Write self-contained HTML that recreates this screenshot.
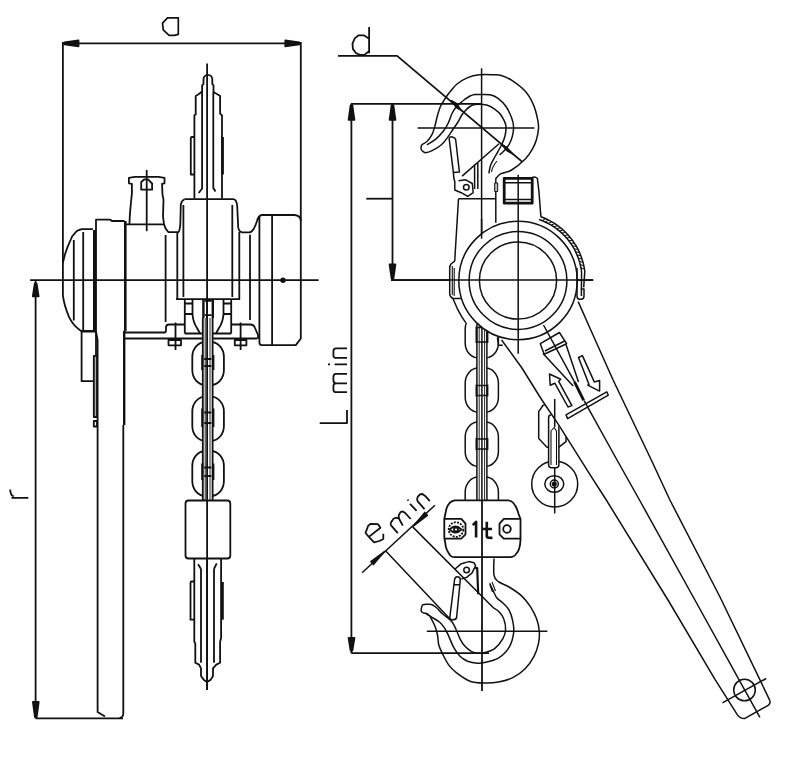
<!DOCTYPE html>
<html><head><meta charset="utf-8"><style>
html,body{margin:0;padding:0;background:#fff;width:800px;height:759px;overflow:hidden;font-family:"Liberation Sans",sans-serif;}
svg{display:block}
</style></head><body>
<svg width="800" height="759" viewBox="0 0 800 759">
<g fill="none" stroke="#111" stroke-width="1.8" stroke-linejoin="round" stroke-linecap="butt">
<path d="M62.9 43.4H300.8 M62.9 42V262.7 M300.8 42V221" />
<path d="M64.5 42.5L78.5 40.5L78.5 46.3L64.5 44.3ZM299.3 44.3L285.3 46.3L285.3 40.5L299.3 42.5Z" fill="#111"/>
<path d="M167.5 17.9H178.3V34.4L174.4 35.4H169.1L163.2 29.8L162.5 23.2Z" stroke-width="1.7"/>
<path d="M30.1 280.1H318.6" />
<path d="M207.1 63.5V690" />
<path d="M194.4 198.5V115.3L195.7 114.4V96 C198 94.3 200.5 93.5 202.1 91.4V85.4L203.5 84V79.2 A4.4 4.4 0 0 1 212.3 79.2V84L213.5 85.4V91.4C215 93.5 218 94.3 220.1 96V113.5L222 115.3V198.5" />
<path d="M202.1 92V188.5L198.7 193 M213.3 92V188L215.5 191.5" />
<path d="M194.4 137H191.8Q190.8 137 190.8 139V174.5H194.4" />
<path d="M222.6 137V174.5" stroke-width="2.6"/>
<path d="M184.5 199.2H233Q236.5 199.2 237.2 205.7L238.2 227.4Q239 231.8 242 232.3H250Q254 231 257 221Q258.5 215.2 262 215H294.5Q300.8 215.5 300.8 221V338.5L295.8 345.1H261.5Q259.4 345 259.4 342V215.8" />
<path d="M183.4 205V297 M232.3 205V297 M239.3 232V298.6 M177.3 232V298.6 M176 299.2H240.2" />
<path d="M272.1 215V345.1 M250 234.8V320" />
<circle cx="283" cy="280.3" r="2.7" fill="#111" stroke="none"/>
<path d="M125.3 224.3H129.4L129.9 214.4L130.8 204L131.9 193.7V183.8L128.9 183.3V177.8L134.8 176.9H158.5L164.5 177.8V183.3L162 183.8L162.5 194.6L163.5 199.6L163 216.4L164 224.3Q165 229 168.4 232.2H178.3Q179.8 231 180.3 224.3L180.8 204.5Q181.5 200.6 184.5 199.2" />
<path d="M129.4 224.3H164" />
<path d="M141.2 189.7V182L144.5 179.3H148L152.1 183.5V189.7Z" />
<path d="M146.7 170V231.2" />
<path d="M165.6 235V322" />
<path d="M92.9 229.2H81.9C78 230 75.5 232 74.5 233.7C72 236 70.8 239.5 70.8 239.5L67.6 246.9L65 254.3L62.9 262.7V295.3C64 305 67 312 69.2 317.4C71 321 75 327 81.1 330.9H94" />
<path d="M73.8 240V320.6 M83.2 232.1V331" />
<path d="M94.5 230V331" stroke-width="3"/>
<path d="M96 331V219.7H110.3L111.9 221H124.5" />
<path d="M125.3 221V331" stroke-width="2.6"/>
<path d="M124.2 331V425" stroke-width="2.4"/>
<path d="M123.3 425V713.5Q123.1 717.6 119.5 717.8" />
<path d="M97.6 340V711.9L105 716.5 M96 331.5L97.6 340" />
<path d="M35.5 718.3H123" />
<rect x="81.6" y="331.6" width="14.4" height="49.6"/>
<rect x="93.8" y="355.9" width="3.2" height="61.1" fill="#aaa"/>
<rect x="93.8" y="421" width="3.2" height="5.5"/>
<path d="M124.6 332.5H164.5Q166 332.5 166 330V327Q166.5 324.5 169 324.5H184.8 M124.6 338.5H257" />
<path d="M184.8 299.5V333.5 M231.2 299.5V333.5 M184.8 333.5H231.2" />
<path d="M192.5 299.5V314Q193 322 197 328L200 333.5 M223.5 299.5V314Q223 322 219 328L216 333.5" />
<path d="M184.8 303.5H192.5 M184.8 314H192.5 M223.5 303.5H231.2 M223.5 314H231.2" />
<path d="M231.2 324.5H250Q254 324.5 255 328L258 335V339" />
<path d="M168.5 340H181V345.3H168.5Z M234.8 340H246.4V345.3H234.8Z" />
<path d="M175.5 322.5V350 M240.6 322.5V350" />
<rect x="192.3" y="342" width="31.6" height="43" rx="13" ry="15"/>
<rect x="192.3" y="396.6" width="31.6" height="44.3" rx="13" ry="15"/>
<rect x="192.3" y="451" width="31.6" height="45" rx="13" ry="15"/>
<rect x="202.8" y="318" width="9.8" height="182" fill="#fff" stroke="none"/>
<path d="M202.8 318V500 M212.6 318V500" />
<path d="M205.2 318V500 M210 318V500" stroke-width="0.9"/>
<path d="M207.1 300V500" />
<path d="M203.4 299.5V318 M212.8 299.5V318" stroke-width="2.4"/>
<path d="M204.6 300.8H211.6 M204.6 315.2H211.6" />
<path d="M202.2 355V370 M213.4 355V370" stroke-width="2"/>
<path d="M204.2 359H211.4 M204.2 366H211.4" />
<path d="M202.2 408.5V427 M213.4 408.5V427" stroke-width="2"/>
<path d="M204.2 412.5H211.4 M204.2 423H211.4" />
<path d="M202.2 463.5V480 M213.4 463.5V480" stroke-width="2"/>
<path d="M204.2 467.5H211.4 M204.2 476H211.4" />
<rect x="185.5" y="500.5" width="44.8" height="58" rx="3" fill="#fff"/>
<path d="M194.3 559V641.7L195.3 643.6V662.7L199.1 664.6L201 668.4V676L203.9 679.9L207 682L210.6 679.9L213 676V668.4L216.3 664.6L220.1 662.7V641.7L221.1 637.8V559" />
<path d="M201 569V662.7 M214 569V662.7 M198.1 564.3L201 569 M216.7 563.4L214 569" />
<path d="M194.3 581.5H191.5Q190.5 581.5 190.5 583V619.7H194.3" />
<path d="M222.5 582V619.7" stroke-width="2.6"/>
<path d="M207.1 500V690" />
<path d="M35.6 280.1V718.3" />
<path d="M36.6 283.3L38.6 296.3L32.8 296.3L34.8 283.3ZM34.9 717.0L32.9 702.0L38.7 702.0L36.7 717.0Z" fill="#111"/>
<path d="M28.3 497.8H11.5 M13.8 496.5Q10.2 495 10.2 489.4" stroke-width="1.8"/>
<path d="M351 103.8H481.6 M351.4 103.8V653.2 M392.5 103.8V279.9 M391 280.1H593.2 M351.4 653.2H489" />
<path d="M352.4 105.3L354.4 119.8L348.6 119.8L350.6 105.3ZM393.4 105.3L395.4 119.8L389.6 119.8L391.6 105.3ZM391.6 278.5L389.6 264.5L395.4 264.5L393.4 278.5ZM350.6 650.5L348.6 638.0L354.4 638.0L352.4 650.5Z" fill="#111"/>
<path d="M366.3 198.7H392.6" stroke-width="1.8"/>
<path d="M338 55.9H397.1L522 161.6" />
<path d="M369.1 27V53.2 M368.7 38.4L363.9 35.3H358.6L354.7 38.4L352.5 43.6L352.9 48.9L356 53.2L360.4 55L364.7 54.6L368.7 51.5" stroke-width="1.8"/>
<path d="M451.5 100.5L456.5 103.2L461.5 110.8L456 107.5Z M512.5 154L507.5 151.3L501 144L506.5 147Z" fill="#111" stroke-width="1.2"/>
<path d="M319.7 423.1H347V410 M347 392.2H335.5Q333.4 392.2 333.4 389V386.5Q333.4 383.3 336 383.3H347 M336 383.3Q333.4 383.3 333.4 380V377Q333.4 373.8 336 373.8H347 M347 364.3H334.6 M330 364.3H328 M347 357.8H335.5Q333.4 357.8 333.4 355V351.5Q333.4 348.3 336 348.3H347" stroke-width="1.8"/>
<g stroke-width="1.5">
<path d="M481.6 68.2V238.8 M417.6 127.9H534.5" />
<path d="M421.6 144.8 C422.5 144.2 425.1 143.2 426.9 141.5 C428.6 139.8 430.8 136.8 432.1 134.3 C433.4 131.8 433.9 129.5 434.8 126.4 C435.7 123.3 436.5 119.0 437.4 115.8 C438.3 112.6 439.1 109.8 440.0 107.5 C440.9 105.2 441.9 103.8 443.0 102.0 C444.1 100.2 445.1 98.5 446.5 96.5 C447.9 94.5 449.7 92.1 451.5 90.0 C453.3 87.9 454.4 86.1 457.1 84.0 C459.8 81.9 464.0 79.1 467.7 77.6 C471.4 76.1 475.1 75.3 479.3 74.8 C483.5 74.3 489.5 74.6 493.0 74.7 C496.5 74.8 497.3 74.3 500.4 75.2 C503.5 76.1 507.4 77.5 511.5 80.2 C515.6 82.9 521.6 87.2 525.3 91.3 C529.0 95.4 531.5 100.3 533.6 105.1 C535.7 109.9 537.0 116.4 537.8 120.3 C538.6 124.2 538.7 125.4 538.5 128.6 C538.3 131.8 537.4 136.2 536.4 139.7 C535.4 143.2 534.1 146.2 532.2 149.4 C530.4 152.6 528.7 155.6 525.3 159.0 C521.9 162.4 515.6 167.6 511.6 170.0 C507.6 172.4 503.6 172.3 501.0 173.7 C498.4 175.1 496.7 177.7 495.8 178.5 V222.7" />
<path d="M421.6 144.8 C421.5 145.4 420.9 147.5 421.0 148.5 C421.1 149.5 421.4 150.0 422.2 150.7 C422.9 151.4 423.9 152.7 425.5 152.7 C427.1 152.7 429.5 152.0 432.1 150.7 C434.8 149.4 438.8 147.1 441.4 144.8 C444.0 142.5 446.0 139.5 448.0 136.9 C450.0 134.3 451.5 131.5 453.2 129.0 C454.9 126.5 456.6 124.2 458.0 122.0 C459.4 119.8 460.3 117.3 461.5 115.5 C462.7 113.7 463.6 112.5 465.0 111.0 C466.4 109.5 468.3 107.6 470.0 106.5 C471.7 105.4 472.2 104.8 475.0 104.5 C477.8 104.2 483.4 104.2 486.7 105.0 C490.0 105.8 492.6 107.6 495.0 109.3 C497.4 111.0 499.1 112.3 500.9 115.0 C502.7 117.7 505.1 121.7 505.8 125.2 C506.5 128.7 505.7 132.7 505.0 136.0 C504.3 139.3 503.1 141.7 501.5 145.0 C499.9 148.3 497.2 152.7 495.4 156.0 C493.6 159.3 491.8 162.1 490.7 165.0 C489.6 167.9 489.2 172.0 488.9 173.4" />
<path d="M426.9 144.8 C428.4 143.8 433.2 141.3 436.1 138.9 C439.0 136.5 441.9 133.0 444.0 130.3 C446.1 127.6 447.2 125.3 448.5 122.5 C449.8 119.7 450.9 115.8 452.0 113.5 C453.1 111.2 453.7 110.2 455.0 108.5 C456.3 106.8 458.5 104.9 460.0 103.5 C461.5 102.1 462.3 101.2 464.0 100.0 C465.7 98.8 468.2 96.9 470.0 96.0 C471.8 95.1 473.3 94.8 475.0 94.5 C476.7 94.2 477.5 94.5 480.0 94.5 C482.5 94.5 487.1 94.2 490.0 94.8 C492.9 95.4 495.0 96.2 497.7 98.2 C500.4 100.2 503.7 103.3 506.0 106.5 C508.3 109.7 510.2 114.1 511.5 117.6 C512.8 121.0 513.5 124.0 513.6 127.2 C513.7 130.4 513.0 133.9 512.2 136.9 C511.4 139.9 510.0 143.0 508.7 145.2 C507.4 147.4 506.1 148.7 504.6 150.3 C503.1 151.9 500.4 154.2 499.5 155.0" />
<path d="M497 161Q492 167 491.5 172" stroke-width="1.1"/>
<rect x="494.7" y="183" width="3" height="8.5" fill="#bbb" stroke-width="1"/>
<path d="M453.4 172.4L449.2 139Q449 136.5 452 136.9Q455.5 137.5 455.7 140L459.4 172Z" />
<path d="M453.4 172.4L453.8 178L454.8 181.7V190L461.2 192.7L467.7 196.4L473.2 192.7L472.3 183.5L465.8 179.8L458.5 180.7" />
<circle cx="466.3" cy="187.2" r="2.8"/>
<path d="M474.6 164.1V189 M477.8 162V189 M462.1 176.1L499 143.8" />
<rect x="465.2" y="314" width="33.2" height="44" rx="13" ry="15"/>
<rect x="465.2" y="368" width="33.2" height="44.2" rx="13" ry="15"/>
<rect x="465.2" y="422" width="33.2" height="44.5" rx="13" ry="15"/>
<rect x="465.2" y="477" width="33.2" height="40" rx="13" ry="15"/>
<rect x="476.9" y="318" width="10" height="182" fill="#fff" stroke="none"/>
<path d="M476.9 318V500 M486.9 318V500" />
<path d="M479.2 318V500 M484.6 318V500" stroke-width="0.9"/>
<path d="M481.9 315.8V500" />
<path d="M476.5 326.5V343 M487.4 326.5V343" stroke-width="2"/>
<path d="M477.5 327.5H486.5 M477.5 342H486.5" />
<path d="M476.5 384.5V396.5 M487.4 384.5V396.5" stroke-width="2"/>
<path d="M477.5 385.5H486.5 M477.5 395.5H486.5" />
<path d="M476.5 438V450 M487.4 438V450" stroke-width="2"/>
<path d="M477.5 439H486.5 M477.5 449H486.5" />
<path d="M458.5 198.7H495.8 M458.5 198.7L454.7 261.2" />
<path d="M532.2 177.5Q535 176 537.4 178.5L539 192.2L540.6 213.2L541.1 217.4" />
<rect x="504.2" y="178.4" width="28" height="24.8" stroke-width="2.8"/>
<path d="M505 182.7H531.5 M505 199.5H531.5" />
<path d="M449.7 262V297L452.8 298.7L457.4 308.8L462 317.1L465.7 322.6L478 324L500 338L520 340V262Z" fill="#fff" stroke="none"/>
<circle cx="518" cy="280.5" r="59.2" fill="#fff" stroke="none"/>
<path d="M518.2 174.8V353.8 M420 280.1H460 M391 280.1H593.2 M481.6 219V238.8" />
<circle cx="518" cy="280.5" r="38.6"/>
<circle cx="518" cy="280.5" r="48.9"/>
<circle cx="518" cy="280.5" r="59.2"/>
<path d="M541.2 216.8 L544.1 218.0 L546.9 219.2 L549.6 220.6 L552.3 222.1 L554.9 223.7 L557.4 225.4 L559.9 227.3 L562.3 229.2 L564.5 231.3 L566.7 233.5 L568.8 235.7 L570.7 238.1 L572.6 240.5 L574.3 243.1 L576.0 245.7 L577.5 248.3 L578.8 251.1 L580.1 253.9 L581.2 256.7 L582.2 259.7 L583.1 262.6 L583.8 265.6 L584.4 268.6 L584.8 271.6 L583.7 287.4" />
<path d="M539.1 219.5 L541.9 220.5 L544.6 221.7 L547.3 223.0 L549.9 224.4 L552.4 225.9 L554.9 227.5 L557.3 229.3 L559.6 231.2 L561.8 233.1 L563.9 235.2 L566.0 237.4 L567.9 239.6 L569.7 242.0 L571.4 244.4 L573.0 246.9 L574.5 249.5 L575.8 252.2 L577.0 254.9 L578.1 257.6 L579.1 260.4 L579.9 263.3 L580.6 266.2 L581.2 269.1 L581.6 272.0 L581.4 289" />
<path d="M542.2 220.6L545.6 218.6 M545.3 222.0L548.7 220.1 M548.3 223.5L551.8 221.8 M551.2 225.1L554.8 223.6 M554.0 226.9L557.7 225.6 M556.7 228.8L560.5 227.7 M559.3 230.9L563.1 230.0 M561.8 233.1L565.7 232.4 M564.2 235.5L568.1 235.0 M566.5 237.9L570.4 237.6 M568.6 240.5L572.5 240.4 M570.6 243.2L574.5 243.3 M572.4 246.0L576.3 246.3 M574.1 248.9L578.0 249.4 M575.6 251.8L579.5 252.5 M577.0 254.9L580.8 255.8 M578.3 258.0L582.0 259.1 M579.3 261.1L583.0 262.5 M580.2 264.4L583.8 265.9 M580.9 267.6L584.5 269.3" stroke-width="1"/>
<path d="M577 268V296.1Q577 299.3 579.5 299.3H581Q584 299.3 584 296V289H581.4V296" />
<path d="M454.7 261.2L451 264Q449.7 266 449.7 268V294Q450 297 452.9 298.5H461.2 M452.9 298.5L457.4 308.8L462 317.1L465.7 322.6" />
<path d="M452.3 266V295 M454.2 268V296" stroke-width="1.1"/>
<circle cx="554.7" cy="484" r="23"/>
<ellipse cx="554.3" cy="484" rx="9.5" ry="8.3"/>
<circle cx="554.3" cy="484" r="4"/>
<circle cx="554.3" cy="484" r="1.8" fill="#111"/>
<path d="M543.1 405.3L538.7 411.6V438.5L547 447.2H558.9L566 441.7V412L560 405.3Z" />
<rect x="548.6" y="414.8" width="10.3" height="53" rx="3" fill="#fff"/>
<path d="M551 465V431L554.2 427.5L556.5 431V465" stroke-width="1.1"/>
<path d="M537.5 395L578 455H598V395Z" fill="#fff" stroke="none"/>
<path d="M554.7 399V427 M554.7 468V513.6" />
<path d="M497.4 337.4L498.5 345.3H502.7" />
<path d="M501.6 340.0 L521.6 367.5 L540.6 398.0 L559.0 425.3 L590.0 474.6 L606.3 500.0 L668.0 600.0 L715.0 679.4 L737.1 714.4 Q740 718.6 744.5 718.6 L768.5 705.2 Q770.5 703.5 769.9 700.6" />
<path d="M769.9 700.6 L720.0 597.0 L669.9 500.0 L651.3 460.0 L632.2 420.0 L613.1 380.0 L590.1 328.5 L578.2 301.6" />
<path d="M543.5 325L574.5 381.9 M584.1 400.7L617 460L639.5 500L694.9 600L744.5 689.7L759.9 717.3" />
<path d="M574.5 381.9L583.7 400.4" stroke-width="2.8"/>
<circle cx="744.5" cy="690" r="10.8"/>
<path d="M722.4 702.9L766.2 678.5" />
<path d="M540.3 343.7L559.4 332.5L566.6 343.7L544.2 354.3Z M544.9 351L564.6 341" />
<path d="M543 353.6L573.2 385.9 M566 344.4L578.5 381.9" />
<path d="M566 414.9L606.8 391.8L608.3 395.2L567.6 418.6Z" />
<path d="M571.9 405.6L558.7 381.3L560.7 379.3L549.5 374L550.2 385.2L554.8 383.2L568 407Z" />
<path d="M578.5 357.5L582.4 355.6L594.3 381.9L599.6 380.6L599.6 391.1L587.7 385.2L589 384.6Z" />
</g>
<path d="M454.9 500.3H508Q515 500.5 518.6 514.1L520.5 519V540Q520 550 516.5 553.4Q514.5 557 510 557.2H455Q450.5 557 449.6 554.5Q445.5 549 445.3 542.8L444.3 538V519L446.4 508.8Q449 500.8 454.9 500.3Z" fill="#fff"/>
<path d="M482 500V691" />
<path d="M444.3 518.9H461.3L465.5 523.7V534.3L461.3 538.6H444.3 M520.8 518.9H503.8L499.5 523.7V534.3L503.8 538.6H520.8" />
<circle cx="456" cy="529.5" r="7.3" stroke-dasharray="2 1.2"/>
<path d="M449.6 529.5Q455.5 523.5 461.3 529.5Q455.5 535.5 449.6 529.5Z"/>
<circle cx="456" cy="529.5" r="2"/>
<circle cx="507" cy="529" r="3.8"/>
<path d="M472.8 525.2L476.1 521.8V537.5 M486.8 521.8V536.5Q487 538.2 492.5 537.8 M482.5 529H492" stroke-width="2.6"/>
<g stroke-width="1.5">
<path d="M426.8 631.2H547.4" />
<path d="M494.0 558.6 C494.0 561.4 493.3 571.5 494.0 575.4 C494.7 579.2 495.9 579.8 498.4 581.7 C500.9 583.6 505.2 584.6 509.1 587.0 C513.0 589.4 518.1 592.6 521.6 595.9 C525.1 599.2 527.9 602.8 530.4 606.6 C532.9 610.5 535.2 614.9 536.7 619.0 C538.2 623.1 539.0 627.2 539.3 631.4 C539.6 635.5 539.3 639.8 538.4 643.9 C537.5 648.0 536.2 652.1 534.0 656.3 C531.8 660.4 528.6 665.2 525.1 668.8 C521.6 672.4 517.2 675.5 512.7 677.7 C508.3 679.9 503.1 681.2 498.4 682.1 C493.6 683.0 488.9 683.1 484.2 683.0 C479.5 682.9 474.6 682.9 470.0 681.2 C465.4 679.5 459.8 675.3 456.3 672.6 C452.8 669.9 451.1 668.2 448.8 665.1 C446.5 662.0 444.2 657.1 442.5 653.8 C440.8 650.4 439.6 648.1 438.8 645.0 C438.0 641.9 438.1 638.1 437.5 635.0 C436.9 631.9 436.2 629.4 435.0 626.3 C433.8 623.2 430.8 618.0 430.0 616.3" />
<path d="M430.0 616.3 C429.4 615.8 427.5 614.0 426.5 613.5 C425.5 613.0 424.7 613.5 423.8 613.1 C422.9 612.7 421.7 612.0 421.3 611.3 C420.9 610.6 421.1 609.8 421.3 608.8 C421.5 607.8 421.9 605.7 422.5 605.0 C423.1 604.3 423.5 604.5 425.0 604.4 C426.5 604.3 429.4 603.9 431.3 604.4 C433.2 604.9 434.4 605.9 436.3 607.5 C438.2 609.1 440.4 611.9 442.5 613.8 C444.6 615.7 447.1 617.3 448.8 618.8 C450.5 620.2 451.2 620.6 452.5 622.5 C453.8 624.4 455.1 627.3 456.3 630.0 C457.6 632.7 458.6 636.1 460.0 638.8 C461.4 641.5 463.1 644.2 465.0 646.3 C466.9 648.4 469.2 650.1 471.3 651.3 C473.4 652.4 475.5 653.0 477.6 653.2 C479.8 653.5 481.3 653.6 484.2 652.8 C487.1 652.0 491.8 650.7 494.9 648.3 C498.0 645.9 501.1 641.7 502.9 638.6 C504.7 635.5 505.5 633.0 505.6 629.7 C505.8 626.4 504.9 622.0 503.8 619.0 C502.8 616.0 501.0 613.7 499.3 611.9 C497.6 610.1 494.6 608.6 493.6 608.0" />
<path d="M426.3 613.8 C427.1 614.3 429.0 615.4 431.3 616.9 C433.6 618.4 437.7 620.5 440.0 622.5 C442.3 624.5 443.5 626.5 445.0 628.8 C446.5 631.1 447.3 633.2 448.8 636.3 C450.3 639.4 451.9 644.3 453.8 647.6 C455.7 650.9 457.7 654.0 460.0 656.3 C462.3 658.6 464.7 660.1 467.6 661.3 C470.5 662.4 474.8 663.0 477.6 663.2 C480.4 663.4 480.7 663.5 484.2 662.6 C487.7 661.8 494.2 660.6 498.4 658.1 C502.5 655.6 506.6 651.5 509.1 647.4 C511.6 643.2 513.0 637.6 513.6 633.2 C514.2 628.8 513.5 624.6 512.7 620.8 C512.0 616.9 510.7 613.1 509.1 610.1 C507.5 607.1 505.0 605.1 502.9 603.0 C500.8 600.9 498.3 599.8 496.7 597.7 C495.1 595.6 494.3 593.0 493.1 590.6 C491.9 588.2 490.2 584.6 489.6 583.4" />
<path d="M492.5 592L490 585 M495.5 591L492 582" stroke-width="1.1"/>
<path d="M454.5 580L449.8 617.5Q449.8 619.8 452.5 619.8Q456.2 619.8 456.6 617.5L460.3 580 M454.5 580Q455 576.5 457.5 576.8Q460.5 577 460.3 580 M454.4 584.8H460" />
<path d="M455 569L461.4 563.7L468.8 561.6L474 562.7L475.6 565.8L471.9 573.2L466.6 577.4L461.4 579" />
<circle cx="466.6" cy="570" r="2.8"/>
<path d="M475.1 568H477.2L478.2 594.3" stroke-width="2.2"/>
<path d="M362.1 572.8L435 505.2" />
<path d="M385.3 550.5L450 619 M412.7 526.9L493.6 608" />
<path d="M384.5 551.5L370.8 561.6L373.4 564.6Z M413.6 525.9L427.4 515.3L424.8 512.4Z" fill="#111"/>
<path d="M369.5 536.4L380.4 527.8L378.1 524.2L370.8 523.8L368.2 525.8L365.5 533L370.2 538.3L374.1 542.3L379.4 541L383.3 539V533.7" stroke-width="1.8"/>
<path d="M390.6 524.9L397.8 533.2 M390.6 524.9Q391 521 392.2 521Q393 518.5 394.2 518.3L396.9 517.7L399.2 519L402.8 525.6 M399.2 519Q398.5 516 398.8 515L400.5 512.1L402.8 511.4L404.8 512.7L410.7 519 M407.5 499.7L408.5 500.7 M410 503.8L416.6 510.8 M417.3 500.9L424.5 509.1 M417.3 500.9Q417 498 417.9 496.6L419.9 494.3L422.5 494L425.2 495.9L429.8 501.2" stroke-width="1.8"/>
</g>
</g>
</svg>
</body></html>
